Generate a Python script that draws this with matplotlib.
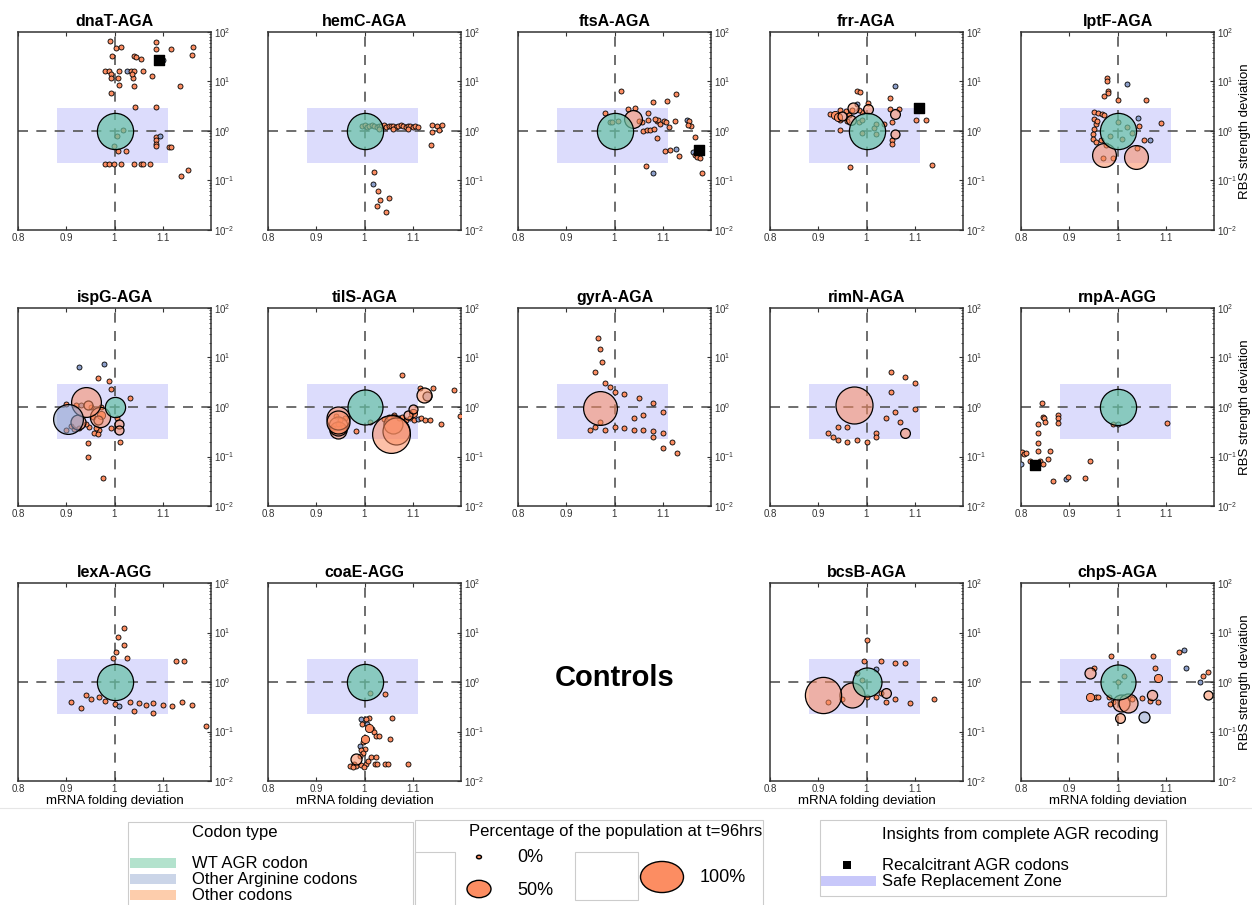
import matplotlib.pyplot as plt
from matplotlib.patches import Rectangle, Circle
from matplotlib.lines import Line2D
from matplotlib.colors import to_rgba

plt.rcParams['font.family'] = ['Liberation Sans', 'DejaVu Sans']

# each point: (mRNA folding deviation, RBS strength deviation, fraction of population, codon kind)
# kind: w = WT AGR codon, a = other arginine codon, o = other codon
dnaT = [(0.99, 66, 0, 'o'), (1.003, 47, 0, 'o'), (1.014, 50, 0, 'o'), (1.085, 63, 0, 'o'), (1.085, 46, 0, 'o'),
        (1.117, 46, 0, 'o'), (1.162, 50, 0, 'o'), (1.16, 34, 0, 'o'), (0.994, 33, 0, 'o'), (1.04, 33, 0, 'o'),
        (1.044, 31, 0, 'o'), (1.054, 29, 0, 'o'), (1.1, 27, 0, 'a'), (0.981, 16, 0, 'o'), (0.988, 16.6, 0, 'o'),
        (0.992, 14.5, 0, 'o'), (0.992, 12, 0, 'o'), (1.009, 16, 0, 'o'), (1.007, 12, 0, 'o'), (1.026, 16, 0, 'a'),
        (1.035, 16.6, 0, 'o'), (1.038, 12, 0, 'o'), (1.04, 16, 0, 'o'), (1.059, 16, 0, 'o'), (1.078, 13, 0, 'o'),
        (1.036, 14, 0, 'o'), (1.01, 8.5, 0, 'o'), (1.04, 8, 0, 'o'), (1.135, 8, 0, 'o'), (0.992, 5.8, 0, 'o'),
        (1.043, 3.1, 0, 'o'), (1.087, 3.0, 0, 'o'), (1.005, 0.8, 0, 'o'), (1.017, 1.05, 0, 'o'),
        (1.087, 0.75, 0, 'o'), (1.095, 0.8, 0, 'a'), (1.085, 0.65, 0, 'o'), (1.087, 0.55, 0, 'o'),
        (1.087, 0.5, 0, 'o'), (1.113, 0.47, 0, 'o'), (1.118, 0.47, 0, 'o'), (1.007, 0.4, 0, 'o'),
        (1.024, 0.4, 0, 'o'), (0.999, 0.5, 0, 'o'), (0.981, 0.22, 0, 'o'), (0.988, 0.22, 0, 'o'),
        (0.999, 0.22, 0, 'o'), (1.0125, 0.22, 0, 'o'), (1.04, 0.22, 0, 'o'), (1.054, 0.22, 0, 'o'),
        (1.06, 0.22, 0, 'o'), (1.073, 0.22, 0, 'o'), (1.138, 0.125, 0, 'o'), (1.153, 0.16, 0, 'o'),
        (1.0, 1.0, 0.78, 'w')]
hemC = [(0.995, 1.25, 0, 'o'), (1.0, 1.3, 0, 'o'), (1.005, 1.22, 0, 'o'), (1.01, 1.25, 0, 'o'), (1.015, 1.3, 0, 'o'),
        (1.02, 1.25, 0, 'o'), (1.025, 1.22, 0, 'o'), (1.03, 1.28, 0, 'o'), (1.035, 1.25, 0, 'o'), (1.04, 1.3, 0, 'o'),
        (1.045, 1.22, 0, 'o'), (1.05, 1.25, 0, 'o'), (1.055, 1.28, 0, 'o'), (1.06, 1.25, 0, 'o'), (1.065, 1.2, 0, 'o'),
        (1.07, 1.25, 0, 'o'), (1.075, 1.3, 0, 'o'), (1.08, 1.25, 0, 'o'), (1.085, 1.22, 0, 'o'), (1.09, 1.25, 0, 'o'),
        (1.095, 1.28, 0, 'o'), (1.1, 1.22, 0, 'o'), (1.105, 1.25, 0, 'o'), (1.11, 1.22, 0, 'o'), (1.03, 1.1, 0, 'o'),
        (1.06, 1.1, 0, 'o'), (1.09, 1.12, 0, 'o'), (1.14, 1.3, 0, 'o'), (1.15, 1.28, 0, 'o'), (1.16, 1.35, 0, 'o'),
        (1.155, 1.05, 0, 'o'), (1.14, 0.95, 0, 'o'), (1.137, 0.52, 0, 'o'), (1.019, 0.15, 0, 'o'),
        (1.017, 0.085, 0, 'a'), (1.028, 0.06, 0, 'o'), (1.033, 0.04, 0, 'o'), (1.044, 0.023, 0, 'o'),
        (1.05, 0.045, 0, 'o'), (1.025, 0.03, 0, 'o'), (1.0, 1.0, 0.78, 'w')]
ftsA = [(1.013, 6.5, 0, 'o'), (1.079, 3.9, 0, 'o'), (1.109, 4.1, 0, 'o'), (1.128, 5.5, 0, 'o'), (1.07, 2.3, 0, 'o'),
        (1.028, 2.75, 0, 'o'), (1.043, 2.95, 0, 'o'), (0.98, 2.3, 0, 'o'), (0.99, 1.55, 0, 'o'), (1.008, 1.6, 0, 'o'),
        (0.995, 1.5, 0, 'o'), (1.05, 1.6, 0, 'o'), (1.057, 1.5, 0, 'o'), (1.06, 1.0, 0, 'o'), (1.067, 1.05, 0, 'o'),
        (1.074, 1.05, 0, 'o'), (1.081, 1.1, 0, 'o'), (1.088, 1.6, 0, 'o'), (1.091, 1.65, 0, 'o'), (1.095, 1.4, 0, 'o'),
        (1.102, 1.6, 0, 'o'), (1.106, 1.55, 0, 'o'), (1.083, 1.75, 0, 'o'), (1.07, 1.7, 0, 'o'), (1.125, 1.6, 0, 'o'),
        (1.112, 1.2, 0, 'o'), (1.15, 1.7, 0, 'a'), (1.155, 1.6, 0, 'o'), (1.158, 1.25, 0, 'o'), (1.152, 1.3, 0, 'o'),
        (1.166, 0.75, 0, 'o'), (1.088, 0.72, 0, 'o'), (1.105, 0.4, 0, 'o'), (1.116, 0.42, 0, 'o'),
        (1.128, 0.43, 0, 'a'), (1.133, 0.31, 0, 'o'), (1.163, 0.38, 0, 'a'), (1.167, 0.33, 0, 'o'),
        (1.172, 0.3, 0, 'o'), (1.178, 0.28, 0, 'o'), (1.065, 0.2, 0, 'o'), (1.079, 0.14, 0, 'a'),
        (1.181, 0.14, 0, 'o'), (1.039, 1.78, 0.32, 'o'), (1.0, 1.0, 0.78, 'w')]
frr = [(0.98, 6.3, 0, 'o'), (0.987, 6.0, 0, 'o'), (1.06, 8.3, 0, 'a'), (1.048, 4.7, 0, 'o'), (0.98, 3.5, 0, 'a'),
       (1.003, 3.6, 0, 'o'), (1.003, 2.8, 0.12, 'o'), (0.925, 2.2, 0, 'o'), (0.935, 2.1, 0.08, 'o'),
       (0.945, 2.6, 0, 'o'), (0.95, 2.0, 0.1, 'o'), (0.957, 2.5, 0, 'o'), (0.964, 2.1, 0, 'o'),
       (0.97, 2.6, 0, 'o'), (0.973, 2.9, 0.15, 'o'), (0.967, 1.7, 0.12, 'o'), (0.96, 1.6, 0, 'o'),
       (0.945, 1.7, 0, 'o'), (0.94, 1.9, 0.08, 'o'), (0.99, 2.4, 0, 'o'), (0.985, 2.7, 0, 'o'),
       (1.048, 2.8, 0, 'o'), (1.068, 2.8, 0, 'o'), (1.06, 2.2, 0.12, 'o'), (1.036, 1.4, 0, 'o'),
       (1.052, 1.5, 0, 'o'), (1.052, 0.65, 0, 'o'), (1.052, 0.55, 0, 'o'), (1.06, 0.85, 0.1, 'o'),
       (0.945, 1.05, 0, 'o'), (1.103, 1.7, 0, 'o'), (1.123, 1.7, 0, 'o'), (1.136, 0.21, 0, 'o'),
       (0.966, 0.19, 0, 'o'), (0.985, 1.5, 0, 'o'), (1.02, 1.4, 0, 'o'), (1.015, 1.15, 0, 'o'),
       (0.99, 1.7, 0, 'o'), (1.02, 0.85, 0, 'o'), (0.99, 0.9, 0, 'o'), (1.0, 1.0, 0.78, 'w')]
lptF = [(0.979, 11.5, 0, 'o'), (0.979, 10, 0, 'o'), (0.981, 6.5, 0, 'o'), (0.98, 5.8, 0, 'o'), (0.973, 5.2, 0, 'o'),
        (1.019, 8.7, 0, 'a'), (1.0, 4.2, 0, 'o'), (1.06, 4.2, 0, 'o'), (1.091, 1.48, 0, 'o'), (1.042, 1.8, 0, 'a'),
        (1.045, 1.25, 0, 'o'), (1.054, 0.66, 0, 'o'), (1.067, 0.65, 0, 'a'), (0.951, 2.4, 0, 'o'),
        (0.959, 2.3, 0, 'o'), (0.967, 2.25, 0, 'o'), (0.973, 2.1, 0, 'o'), (0.951, 1.75, 0, 'o'),
        (0.955, 1.4, 0, 'o'), (0.951, 1.1, 0, 'o'), (0.95, 0.88, 0, 'o'), (0.949, 0.7, 0, 'o'),
        (0.955, 0.6, 0, 'o'), (0.965, 0.65, 0, 'o'), (0.976, 0.52, 0, 'o'), (0.97, 0.29, 0, 'o'),
        (0.99, 0.28, 0, 'o'), (0.958, 1.6, 0, 'o'), (1.0, 1.5, 0, 'o'), (1.02, 1.2, 0, 'o'), (1.01, 0.7, 0, 'o'),
        (0.985, 0.8, 0, 'o'), (1.03, 0.9, 0, 'o'), (1.04, 0.45, 0, 'o'),
        (0.972, 0.32, 0.47, 'o'), (1.039, 0.3, 0.47, 'o'), (1.0, 1.0, 0.78, 'w')]
ispG = [(0.927, 6.5, 0, 'a'), (0.979, 7.5, 0, 'a'), (0.966, 3.8, 0, 'o'), (0.988, 3.3, 0, 'o'), (0.993, 2.3, 0, 'o'),
        (1.033, 1.5, 0, 'o'), (0.9, 1.15, 0, 'o'), (0.921, 1.1, 0, 'o'), (0.931, 1.12, 0, 'a'), (0.945, 1.12, 0.1, 'o'),
        (0.952, 1.0, 0, 'o'), (0.972, 0.98, 0, 'o'), (1.006, 0.6, 0, 'o'), (1.009, 0.45, 0.1, 'o'),
        (0.992, 0.38, 0, 'o'), (1.009, 0.35, 0.1, 'o'), (0.968, 0.35, 0, 'o'), (0.962, 0.38, 0, 'o'),
        (0.948, 0.4, 0, 'o'), (0.927, 0.38, 0, 'o'), (0.917, 0.36, 0, 'o'), (0.9, 0.35, 0, 'o'),
        (0.958, 0.3, 0, 'o'), (0.966, 0.28, 0, 'o'), (0.946, 0.19, 0, 'o'), (0.946, 0.1, 0, 'o'),
        (1.012, 0.2, 0, 'o'), (0.976, 0.036, 0, 'o'), (0.965, 0.55, 0.1, 'o'), (0.972, 0.7, 0.08, 'o'),
        (0.955, 0.62, 0, 'o'), (0.94, 0.45, 0, 'o'), (0.91, 0.42, 0, 'o'),
        (0.925, 0.5, 0.25, 'o'), (0.97, 0.63, 0.38, 'o'), (0.941, 1.26, 0.62, 'o'), (0.904, 0.58, 0.62, 'a'),
        (1.0, 1.0, 0.38, 'w')]
tilS = [(1.077, 4.4, 0, 'o'), (1.114, 2.4, 0, 'o'), (1.143, 2.4, 0, 'o'), (1.186, 2.2, 0, 'o'), (1.198, 0.65, 0, 'o'),
        (1.158, 0.45, 0, 'o'), (1.062, 0.7, 0, 'o'), (1.071, 0.6, 0, 'o'), (1.078, 0.62, 0, 'o'), (1.086, 0.55, 0, 'o'),
        (1.095, 0.6, 0, 'o'), (1.102, 0.55, 0, 'o'), (1.11, 0.57, 0, 'a'), (1.118, 0.6, 0, 'o'),
        (1.125, 0.55, 0, 'o'), (1.135, 0.55, 0, 'o'), (1.05, 0.62, 0, 'o'), (1.04, 0.58, 0, 'o'),
        (1.012, 0.5, 0, 'o'), (0.982, 0.33, 0, 'o'), (1.1, 0.75, 0.08, 'o'), (1.09, 0.68, 0.1, 'o'),
        (0.94, 0.65, 0, 'o'), (0.95, 0.55, 0, 'o'), (0.945, 0.45, 0, 'o'), (0.955, 0.4, 0, 'o'),
        (0.935, 0.38, 0, 'o'), (0.96, 0.6, 0, 'o'), (1.1, 0.9, 0.1, 'o'),
        (1.124, 1.75, 0.25, 'o'), (1.13, 1.7, 0.1, 'a'), (0.945, 0.6, 0.45, 'o'), (0.945, 0.5, 0.45, 'o'),
        (0.945, 0.42, 0.35, 'o'), (0.945, 0.35, 0.3, 'o'), (1.065, 0.33, 0.55, 'o'), (1.054, 0.29, 0.82, 'o'),
        (1.06, 0.45, 0.35, 'o'), (1.0, 1.0, 0.75, 'w')]
gyrA = [(0.965, 25, 0, 'o'), (0.97, 15, 0, 'o'), (0.975, 8, 0, 'o'), (0.96, 5, 0, 'o'), (0.98, 3, 0, 'o'),
        (0.99, 2.5, 0, 'o'), (1.0, 2.0, 0, 'o'), (1.02, 1.8, 0, 'o'), (1.05, 1.5, 0, 'o'), (1.08, 1.2, 0, 'o'),
        (1.1, 0.8, 0, 'o'), (1.06, 0.7, 0, 'o'), (1.04, 0.6, 0, 'o'), (0.96, 0.4, 0, 'o'), (0.98, 0.35, 0, 'o'),
        (1.0, 0.4, 0, 'o'), (1.02, 0.38, 0, 'o'), (1.04, 0.35, 0, 'o'), (1.06, 0.35, 0, 'o'), (1.08, 0.33, 0, 'o'),
        (1.1, 0.3, 0, 'o'), (1.12, 0.2, 0, 'o'), (1.13, 0.12, 0, 'o'), (1.1, 0.15, 0, 'o'), (1.08, 0.25, 0, 'o'),
        (0.95, 0.35, 0, 'o'), (0.97, 0.5, 0, 'o'), (0.97, 0.95, 0.72, 'o')]
rimN = [(1.02, 0.3, 0, 'o'), (1.05, 2.0, 0, 'o'), (1.08, 4.0, 0, 'o'), (1.05, 5.0, 0, 'o'), (1.1, 3.0, 0, 'o'),
        (1.06, 0.8, 0, 'o'), (1.1, 0.9, 0, 'o'), (0.92, 0.3, 0, 'o'), (0.93, 0.25, 0, 'o'), (0.94, 0.22, 0, 'o'),
        (0.96, 0.2, 0, 'o'), (0.98, 0.22, 0, 'o'), (1.0, 0.2, 0, 'o'), (1.02, 0.25, 0, 'o'), (0.94, 0.4, 0, 'o'),
        (0.96, 0.4, 0, 'o'), (1.04, 0.6, 0, 'o'), (1.07, 0.5, 0, 'o'), (1.08, 0.3, 0.12, 'o'),
        (0.975, 1.1, 0.8, 'o')]
rnpA = [(0.844, 1.2, 0, 'o'), (0.845, 0.63, 0, 'o'), (0.847, 0.6, 0, 'o'), (0.85, 0.5, 0, 'o'), (0.835, 0.45, 0, 'o'),
        (0.877, 0.7, 0, 'o'), (0.877, 0.6, 0, 'o'), (0.877, 0.48, 0, 'o'), (0.835, 0.3, 0, 'o'), (0.836, 0.19, 0, 'o'),
        (0.835, 0.13, 0, 'o'), (0.802, 0.125, 0, 'o'), (0.806, 0.11, 0, 'o'), (0.81, 0.12, 0, 'o'),
        (0.861, 0.13, 0, 'o'), (0.855, 0.09, 0, 'o'), (0.818, 0.08, 0, 'o'), (0.84, 0.08, 0, 'o'),
        (0.845, 0.07, 0, 'o'), (0.8, 0.072, 0, 'a'), (0.942, 0.083, 0, 'o'), (0.867, 0.032, 0, 'o'),
        (0.893, 0.035, 0, 'a'), (0.897, 0.038, 0, 'o'), (0.932, 0.036, 0, 'o'), (0.99, 0.46, 0, 'o'),
        (1.002, 0.46, 0, 'a'), (1.102, 0.47, 0, 'o'), (1.0, 1.0, 0.78, 'w')]
lexA = [(1.019, 12.3, 0, 'o'), (1.008, 8, 0, 'o'), (1.019, 5.5, 0, 'o'), (1.003, 4.0, 0, 'o'), (0.996, 3.0, 0, 'o'),
        (1.025, 3.0, 0, 'o'), (1.127, 2.6, 0, 'o'), (1.144, 2.6, 0, 'o'), (0.94, 0.55, 0, 'o'), (0.968, 0.5, 0, 'o'),
        (0.952, 0.45, 0, 'o'), (0.98, 0.42, 0, 'o'), (1.033, 0.4, 0, 'o'), (1.05, 0.38, 0, 'o'),
        (1.065, 0.35, 0, 'o'), (0.91, 0.4, 0, 'o'), (1.08, 0.38, 0, 'o'), (1.1, 0.35, 0, 'o'), (1.12, 0.33, 0, 'o'),
        (1.14, 0.4, 0, 'o'), (1.16, 0.35, 0, 'o'), (1.19, 0.13, 0, 'o'), (1.0, 0.36, 0, 'o'), (1.01, 0.33, 0, 'a'),
        (1.04, 0.26, 0, 'o'), (1.08, 0.24, 0, 'o'), (0.93, 0.3, 0, 'o'), (1.0, 1.0, 0.78, 'w')]
coaE = [(1.011, 0.6, 0, 'o'), (1.042, 0.58, 0, 'o'), (1.009, 0.19, 0, 'o'), (1.056, 0.19, 0, 'o'),
        (0.993, 0.175, 0, 'a'), (1.003, 0.175, 0, 'o'), (0.995, 0.14, 0, 'o'), (1.005, 0.14, 0, 'a'),
        (1.009, 0.12, 0.08, 'o'), (1.016, 0.11, 0, 'o'), (1.02, 0.1, 0, 'o'), (1.023, 0.08, 0, 'o'),
        (1.03, 0.08, 0, 'o'), (1.052, 0.07, 0, 'o'), (1.0, 0.072, 0.08, 'o'), (0.997, 0.062, 0, 'o'),
        (0.99, 0.05, 0, 'a'), (1.0, 0.045, 0, 'o'), (0.993, 0.042, 0, 'o'), (0.997, 0.037, 0, 'o'),
        (0.99, 0.032, 0, 'o'), (0.983, 0.028, 0.15, 'o'), (0.978, 0.022, 0, 'o'), (0.983, 0.02, 0, 'o'),
        (0.993, 0.021, 0, 'o'), (1.003, 0.022, 0, 'o'), (1.007, 0.025, 0, 'o'), (1.014, 0.03, 0, 'o'),
        (1.021, 0.022, 0, 'o'), (1.023, 0.03, 0, 'o'), (1.026, 0.022, 0, 'o'), (1.043, 0.022, 0, 'o'),
        (1.048, 0.022, 0, 'o'), (1.09, 0.022, 0, 'o'), (0.97, 0.02, 0, 'o'), (0.977, 0.019, 0, 'o'),
        (0.998, 0.019, 0, 'o'), (1.0, 1.0, 0.78, 'w')]
bcsB = [(1.0, 7.0, 0, 'o'), (0.995, 2.7, 0, 'o'), (1.03, 2.7, 0, 'o'), (1.06, 2.4, 0, 'o'), (1.08, 2.4, 0, 'o'),
        (0.99, 1.1, 0, 'o'), (1.06, 0.45, 0, 'o'), (1.04, 0.4, 0, 'o'), (1.09, 0.38, 0, 'o'), (1.14, 0.45, 0, 'o'),
        (0.92, 0.4, 0, 'o'), (0.95, 0.45, 0, 'o'), (1.02, 0.5, 0, 'o'), (1.03, 0.6, 0, 'o'), (1.0, 0.5, 0, 'o'),
        (0.98, 1.5, 0, 'o'), (1.02, 1.8, 0, 'a'), (1.04, 0.6, 0.12, 'o'),
        (0.91, 0.55, 0.78, 'o'), (0.97, 0.55, 0.5, 'o'), (1.0, 1.0, 0.6, 'w')]
chpS = [(0.986, 3.3, 0, 'o'), (1.074, 3.3, 0, 'o'), (0.951, 1.95, 0, 'o'), (1.078, 1.95, 0, 'o'),
        (1.128, 4.0, 0, 'o'), (1.138, 4.4, 0, 'a'), (1.142, 1.95, 0, 'a'), (1.188, 1.6, 0, 'o'),
        (1.177, 1.3, 0, 'o'), (1.172, 1.0, 0, 'a'), (1.014, 1.3, 0, 'o'), (1.0, 1.0, 0, 'o'),
        (0.983, 0.5, 0, 'o'), (0.99, 0.4, 0, 'o'), (0.985, 0.36, 0, 'o'), (0.944, 0.5, 0, 'o'),
        (0.955, 0.5, 0, 'o'), (0.96, 0.5, 0, 'o'), (1.05, 0.48, 0, 'o'), (1.068, 0.42, 0, 'o'),
        (1.083, 0.4, 0, 'o'), (1.025, 0.47, 0, 'o'), (1.005, 0.19, 0.12, 'o'), (1.03, 0.45, 0, 'o'),
        (0.944, 1.55, 0.15, 'o'), (1.072, 0.55, 0.13, 'o'), (1.083, 1.2, 0.08, 'o'), (1.188, 0.55, 0.1, 'o'),
        (0.944, 0.5, 0.08, 'o'), (1.008, 0.38, 0.3, 'o'), (1.022, 0.37, 0.35, 'o'), (1.055, 0.2, 0.15, 'a'),
        (1.0, 1.0, 0.75, 'w')]

panel_names = ['dnaT-AGA', 'hemC-AGA', 'ftsA-AGA', 'frr-AGA', 'lptF-AGA',
               'ispG-AGA', 'tilS-AGA', 'gyrA-AGA', 'rimN-AGA', 'rnpA-AGG',
               'lexA-AGG', 'coaE-AGG', None, 'bcsB-AGA', 'chpS-AGA']
panel_data = [dnaT, hemC, ftsA, frr, lptF, ispG, tilS, gyrA, rimN, rnpA, lexA, coaE, None, bcsB, chpS]

# recalcitrant AGR codons from the complete recoding
recalcitrant = {'dnaT-AGA': (1.092, 27), 'ftsA-AGA': (1.175, 0.41),
                'frr-AGA': (1.108, 2.95), 'rnpA-AGG': (0.83, 0.068)}

safe_x = (0.88, 1.11)
safe_y = (0.23, 2.9)

kind_color = {'w': '#66c2a5', 'a': '#8da0cb', 'o': '#fc8d62'}
legend_color = {'w': '#b3e2cd', 'a': '#cbd5e8', 'o': '#fdcdac'}
zone_color = '#dcdcfc'

W, H = 1252, 905
fig = plt.figure(figsize=(W / 100, H / 100), dpi=100)

col_left = [18, 268, 518, 770, 1021]
row_top = [32, 308, 583]
aw, ah = 193, 198


def marker_size(p):
    d_px = 5 + 40 * p
    return (d_px * 0.72) ** 2


for i, (name, pts) in enumerate(zip(panel_names, panel_data)):
    r, c = divmod(i, 5)
    if name is None:
        fig.text((col_left[c] + aw / 2) / W, 1 - (row_top[r] + 95) / H, 'Controls',
                 ha='center', va='center', fontsize=21, fontweight='bold')
        continue
    ax = fig.add_axes([col_left[c] / W, 1 - (row_top[r] + ah) / H, aw / W, ah / H])
    ax.set_xlim(0.8, 1.2)
    ax.set_yscale('log')
    ax.set_ylim(1e-2, 1e2)
    ax.fill_between(safe_x, safe_y[0], safe_y[1], color=zone_color, lw=0, zorder=0)
    ax.axvline(1, color='#555555', ls=(0, (6, 5)), lw=1.2, zorder=1)
    ax.axhline(1, color='#555555', ls=(0, (6, 5)), lw=1.2, zorder=1)

    pts = sorted(pts, key=lambda t: t[2])
    for x, y, p, k in pts:
        if k == 'w':
            a = 0.7
        elif p < 0.1:
            a = 1.0
        else:
            a = 0.55
        ax.scatter([x], [y], s=marker_size(p), facecolors=[to_rgba(kind_color[k], a)],
                   edgecolors='black', linewidths=0.9 if p >= 0.1 else 0.6, zorder=3, clip_on=True)
    if name in recalcitrant:
        rx, ry = recalcitrant[name]
        ax.scatter([rx], [ry], marker='s', s=45, color='black', zorder=4)

    ax.set_title(name, fontsize=11.5, fontweight='bold', pad=4)
    ax.set_xticks([0.8, 0.9, 1.0, 1.1])
    ax.set_xticklabels(['0.8', '0.9', '1', '1.1'])
    ax.set_yticks([1e-2, 1e-1, 1e0, 1e1, 1e2])
    ax.tick_params(axis='both', which='both', direction='in', labelsize=7, colors='#333333', pad=2)
    ax.tick_params(axis='x', top=True, length=3)
    ax.tick_params(axis='y', left=False, right=True, labelleft=False, labelright=True, length=3)
    ax.tick_params(axis='y', which='minor', left=False, right=True, length=1.5)
    for s in ax.spines.values():
        s.set_linewidth(1.1)
        s.set_color('#333333')
    if c == 4:
        ax.yaxis.set_label_position('right')
        ax.set_ylabel('RBS strength deviation', fontsize=9.5, labelpad=1)
    if r == 2:
        ax.set_xlabel('mRNA folding deviation', fontsize=9.5, labelpad=1)

# faint separator above the legend
fig.add_artist(Line2D([0, 1], [1 - 808 / H, 1 - 808 / H], color='#e6e6e6', lw=0.8))


def fig_rect(x0, y0, x1, y1, **kw):
    fig.add_artist(Rectangle((x0 / W, 1 - y1 / H), (x1 - x0) / W, (y1 - y0) / H,
                             transform=fig.transFigure, **kw))


box = dict(facecolor='white', edgecolor='#cccccc', lw=0.8)
# codon type legend
fig_rect(128, 822, 413, 912, **box)
fig.text(192 / W, 1 - 832 / H, 'Codon type', fontsize=12, va='center')
for j, (k, lab) in enumerate([('w', 'WT AGR codon'), ('a', 'Other Arginine codons'), ('o', 'Other codons')]):
    yc = 863 + j * 16
    fig_rect(130, yc - 5, 176, yc + 5, facecolor=legend_color[k], edgecolor='none')
    fig.text(192 / W, 1 - yc / H, lab, fontsize=12, va='center')

# population legend
fig_rect(415, 820, 763, 912, **box)
fig_rect(415, 852, 455, 912, **box)
fig_rect(575, 852, 638, 900, **box)
fig.text(469 / W, 1 - 831 / H, 'Percentage of the population at t=96hrs', fontsize=12, va='center')
for pct, (cx, cy), (tx, ty) in [(0.0, (479, 857), (517, 857)), (0.5, (479, 889), (517, 890)),
                                (1.0, (662, 877), (700, 877))]:
    d = 5 + 38 * pct
    fig.add_artist(Circle((cx / W, 1 - cy / H), d / 2 / W, transform=fig.transFigure,
                          facecolor='#fc8d62', edgecolor='black', lw=1.0))
    fig.text(tx / W, 1 - ty / H, f'{int(pct * 100)}%', fontsize=13, va='center')

# insights legend
fig_rect(820, 820, 1166, 896, **box)
fig.text(882 / W, 1 - 834 / H, 'Insights from complete AGR recoding', fontsize=12, va='center')
fig_rect(843, 861, 851, 869, facecolor='black', edgecolor='none')
fig.text(882 / W, 1 - 865 / H, 'Recalcitrant AGR codons', fontsize=12, va='center')
fig_rect(821, 876, 876, 886, facecolor='#c8c8fa', edgecolor='none')
fig.text(882 / W, 1 - 881 / H, 'Safe Replacement Zone', fontsize=12, va='center')

fig.savefig('out.png', dpi=100)
